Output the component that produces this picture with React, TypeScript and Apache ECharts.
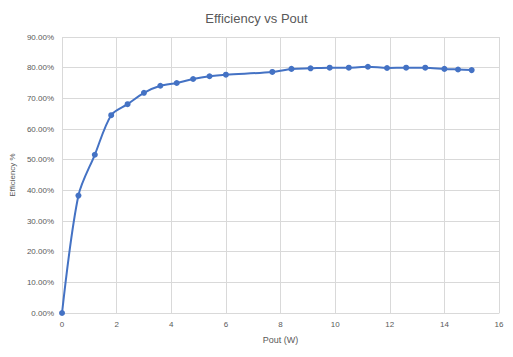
import React, { useEffect, useRef } from "react";
import * as echarts from "echarts";

const pout = [0, 0.6, 1.2, 1.8, 2.4, 3.0, 3.6, 4.2, 4.8, 5.4, 6.0, 7.7, 8.4, 9.1, 9.8, 10.5, 11.2, 11.9, 12.6, 13.3, 14.0, 14.5, 15.0];
const efficiency = [0, 38.3, 51.6, 64.5, 68.1, 71.8, 74.1, 75.0, 76.3, 77.2, 77.7, 78.6, 79.6, 79.8, 80.0, 80.0, 80.3, 79.9, 80.0, 80.0, 79.6, 79.4, 79.2];
const titleText = "Efficiency vs Pout";
const xName = "Pout (W)";
const yName = "Efficiency %";

export default function App() {
  const ref = useRef<HTMLDivElement>(null);
  useEffect(() => {
    if (!ref.current) return;
    const chart = echarts.init(ref.current, null, { renderer: "svg" });
    const font = "'Liberation Sans', Arial, sans-serif";
    chart.setOption({
      animation: false,
      backgroundColor: "#ffffff",
      title: {
        text: titleText,
        left: "center",
        top: 7,
        textStyle: { fontFamily: font, fontSize: 13, fontWeight: "normal", color: "#595959" },
      },
      grid: { left: 62, right: 14, top: 37, bottom: 44 },
      xAxis: {
        type: "value",
        min: 0,
        max: 16,
        interval: 2,
        name: xName,
        nameLocation: "middle",
        nameGap: 22,
        nameTextStyle: { fontFamily: font, fontSize: 9, color: "#595959" },
        axisLine: { show: true, lineStyle: { color: "#d9d9d9" } },
        axisTick: { show: false },
        axisLabel: { fontFamily: font, fontSize: 8, color: "#595959", margin: 7 },
        splitLine: { show: true, lineStyle: { color: "#d9d9d9" } },
      },
      yAxis: {
        type: "value",
        min: 0,
        max: 90,
        interval: 10,
        name: yName,
        nameLocation: "middle",
        nameGap: 40,
        nameTextStyle: { fontFamily: font, fontSize: 8, color: "#595959" },
        axisLine: { show: false },
        axisTick: { show: false },
        axisLabel: {
          fontFamily: font,
          fontSize: 8,
          color: "#595959",
          margin: 8,
          formatter: (v: number) => v.toFixed(2) + "%",
        },
        splitLine: { show: true, lineStyle: { color: "#d9d9d9" } },
      },
      series: [
        {
          type: "line",
          data: pout.map((x, i) => [x, efficiency[i]]),
          smooth: 0.3,
          symbol: "circle",
          symbolSize: 6,
          lineStyle: { color: "#4472c4", width: 2 },
          itemStyle: { color: "#4472c4" },
        },
      ],
    });
    return () => chart.dispose();
  }, []);
  return (
    <div
      ref={ref}
      style={{ position: "fixed", left: 0, top: 0, width: 513, height: 357 }}
    />
  );
}
